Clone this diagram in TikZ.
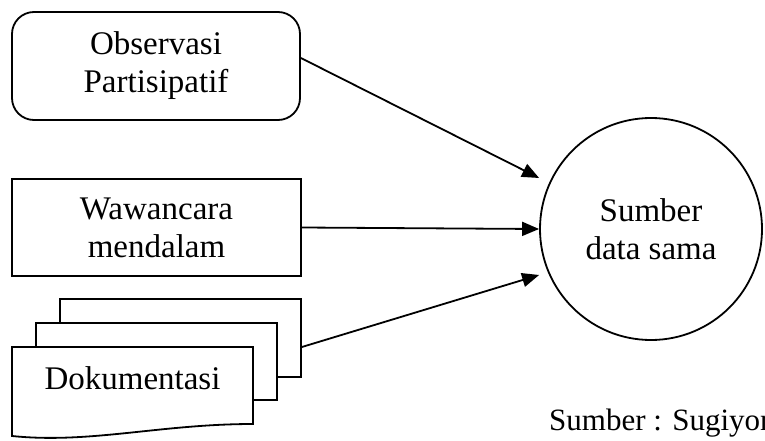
\documentclass[tikz,border=0pt]{standalone}
\usepackage{fontspec}
\setmainfont{Liberation Serif}
\usepackage{tikz}
\usetikzlibrary{shapes, arrows.meta, positioning, calc}
\tikzset{
  >=Triangle,
  flowarrow/.style={-{Triangle[length=17pt, width=14pt]}, line width=1.8pt, black},
  boxline/.style={draw, line width=1.8pt, align=center, font=\fontsize{33}{38}\selectfont},
  docsheet/.style={draw, fill=white, line width=1.8pt, minimum width=241pt}
}

\begin{document}
\begin{tikzpicture}[x=1pt, y=1pt]
    \useasboundingbox (0,0) rectangle (765,440);
    \clip (0,0) rectangle (765,440);

    \node (obs) [boxline, rounded corners=22pt, minimum width=288pt, minimum height=108pt] at (156,374) {Observasi\\Partisipatif};
    \node (waw) [boxline, minimum width=289pt, minimum height=97pt] at (156.5,212.5) {Wawancara\\mendalam};
    \node (circ) [boxline, circle, minimum size=222pt] at (651,211) {Sumber\\data sama};

    % stacked documents
    \node (dok3) [docsheet, minimum height=78pt] at (180.5,102) {};
    \node (dok2) [docsheet, minimum height=77pt] at (156.5,78.5) {};
    \draw[line width=1.8pt, fill=white] (12,93) -- (253,93) -- (253,16)
        .. controls (160,16) and (90,-4) .. (12,4) -- cycle;
    \node (dok1) [font=\fontsize{33}{38}\selectfont] at (132.5,62) {Dokumentasi};

    \draw[flowarrow] ([yshift=8pt]obs.east) -- ([yshift=51pt]circ.west);
    \draw[flowarrow] (waw.east) -- (circ.west);
    \draw[flowarrow] ([yshift=-9pt]dok3.east) -- ([yshift=-46pt]circ.west);

    \node (src) [anchor=base west, font=\fontsize{31}{36}\selectfont, inner sep=0pt] at (549,10) {Sumber : Sugiyono};
\end{tikzpicture}
\end{document}
